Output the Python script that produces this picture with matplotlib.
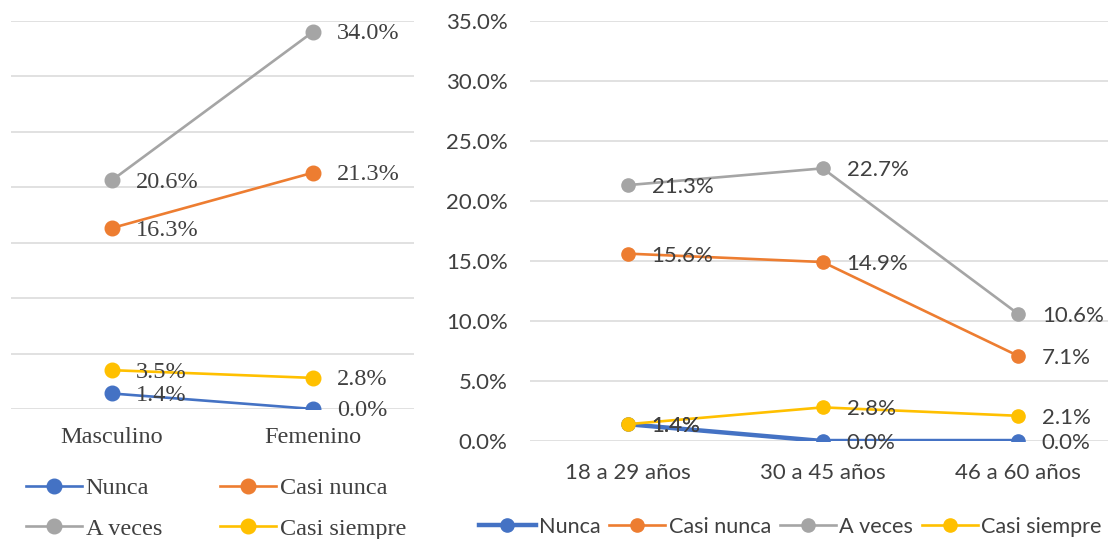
import matplotlib
matplotlib.use("Agg")
import matplotlib.pyplot as plt

# datos
sexo = ["Masculino", "Femenino"]
edad = ["18 a 29 años", "30 a 45 años", "46 a 60 años"]
series = ["Nunca", "Casi nunca", "A veces", "Casi siempre"]
colores = ["#4472C4", "#ED7D31", "#A5A5A5", "#FFC000"]

sexo_nunca = [1.4, 0.0]
sexo_casi_nunca = [16.3, 21.3]
sexo_a_veces = [20.6, 34.0]
sexo_casi_siempre = [3.5, 2.8]

edad_nunca = [1.4, 0.0, 0.0]
edad_casi_nunca = [15.6, 14.9, 7.1]
edad_a_veces = [21.3, 22.7, 10.6]
edad_casi_siempre = [1.4, 2.8, 2.1]

y_ticks = [0, 5, 10, 15, 20, 25, 30, 35]

texto = "#404040"
grid = "#D9D9D9"

fig = plt.figure(figsize=(11.08, 5.39), dpi=100)

# panel izquierdo (sexo)
ax1 = fig.add_axes([0.0099, 0.2412, 0.3637, 0.7206])
serif = "Liberation Serif"
fs1 = 17.5
datos1 = [sexo_nunca, sexo_casi_nunca, sexo_a_veces, sexo_casi_siempre]
x1 = list(range(len(sexo)))
for nombre, vals, c in zip(series, datos1, colores):
    ax1.plot(x1, vals, color=c, lw=1.9, marker="o", ms=10.5, label=nombre, zorder=3)
    for xi, v in zip(x1, vals):
        ax1.annotate(f"{v:.1f}%", (xi, v), xytext=(24, -2), textcoords="offset pixels",
                     ha="left", va="center", fontsize=fs1, family=serif, color=texto, zorder=5)
ax1.set_xlim(-0.5, 1.5)
ax1.set_ylim(0, 35)
ax1.set_yticks(y_ticks)
ax1.set_yticklabels([])
ax1.set_xticks(x1)
ax1.set_xticklabels(sexo, fontsize=fs1, family=serif, color=texto)
ax1.tick_params(length=0, pad=13)
ax1.grid(axis="y", color=grid, lw=1.1, zorder=0)
ax1.set_axisbelow(True)
for s in ax1.spines.values():
    s.set_visible(False)

# leyenda por filas: Nunca, Casi nunca / A veces, Casi siempre
h1, l1 = ax1.get_legend_handles_labels()
orden = [0, 2, 1, 3]
fig.legend([h1[i] for i in orden], [l1[i] for i in orden], loc="center",
           bbox_to_anchor=(0.195, 0.0566), ncol=2, frameon=False,
           prop={"family": serif, "size": fs1}, labelcolor=texto, handlelength=2.3,
           handletextpad=0.15, columnspacing=2.4, labelspacing=0.78, borderpad=0)

# panel derecho (edad)
ax2 = fig.add_axes([0.4783, 0.1818, 0.5284, 0.780])
sans = "Lato"
fs2 = 16
datos2 = [edad_nunca, edad_casi_nunca, edad_a_veces, edad_casi_siempre]
x2 = list(range(len(edad)))
for nombre, vals, c in zip(series, datos2, colores):
    lw = 3.2 if nombre == "Nunca" else 1.9
    ax2.plot(x2, vals, color=c, lw=lw, marker="o", ms=9.5, label=nombre, zorder=3)
    for xi, v in zip(x2, vals):
        ax2.annotate(f"{v:.1f}%", (xi, v), xytext=(24, -2), textcoords="offset pixels",
                     ha="left", va="center", fontsize=fs2, family=sans, color=texto, zorder=5)
ax2.set_xlim(-0.5, 2.5)
ax2.set_ylim(0, 35)
ax2.set_yticks(y_ticks)
ax2.set_yticklabels([f"{t:.1f}%" for t in y_ticks], fontsize=fs2, family=sans, color=texto)
ax2.set_xticks(x2)
ax2.set_xticklabels(edad, fontsize=fs2, family=sans, color=texto)
ax2.tick_params(axis="y", length=0, pad=16)
ax2.tick_params(axis="x", length=0, pad=16)
ax2.grid(axis="y", color=grid, lw=1.1, zorder=0)
ax2.set_axisbelow(True)
for s in ax2.spines.values():
    s.set_visible(False)

h2, l2 = ax2.get_legend_handles_labels()
fig.legend(h2, l2, loc="center", bbox_to_anchor=(0.7135, 0.0231), ncol=4, frameon=False,
           prop={"family": sans, "size": 15.6}, labelcolor=texto, handlelength=2.6,
           handletextpad=0.15, columnspacing=0.4, borderpad=0)

fig.savefig("out.png", dpi=100)
